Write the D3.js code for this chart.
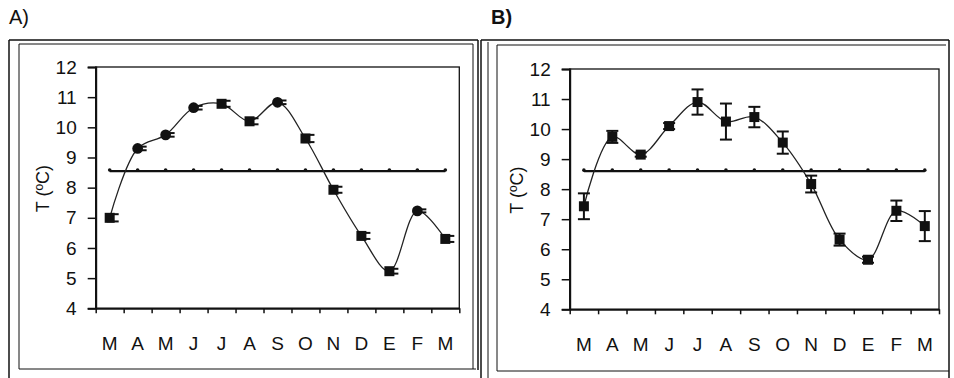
<!DOCTYPE html>
<html>
<head>
<meta charset="utf-8">
<script src="https://cdn.jsdelivr.net/npm/d3@7"></script>
<style>
  body { margin: 0; background: #fff; }
  svg { display: block; }
</style>
</head>
<body>
<div class="chart"></div>
<script>
var w = 954;
var h = 378;

// data
var months = ["M", "A", "M", "J", "J", "A", "S", "O", "N", "D", "E", "F", "M"];
var yTicks = [4, 5, 6, 7, 8, 9, 10, 11, 12];

var tempA = [7.0, 9.3, 9.75, 10.65, 10.78, 10.2, 10.83, 9.63, 7.93, 6.4, 5.23, 7.23, 6.3];
var errA = [0.12, 0.06, 0.06, 0.06, 0.1, 0.1, 0.06, 0.12, 0.1, 0.1, 0.08, 0.05, 0.1];
var meanA = 8.55;
var shapeA = ["square", "circle", "circle", "circle", "square", "square", "circle", "square", "square", "square", "square", "circle", "square"];

var tempB = [7.43, 9.74, 9.15, 10.1, 10.9, 10.25, 10.4, 9.55, 8.17, 6.32, 5.65, 7.28, 6.77];
var errB = [0.43, 0.2, 0.07, 0.1, 0.42, 0.6, 0.34, 0.37, 0.28, 0.2, 0.1, 0.34, 0.5];
var meanB = 8.6;

var ink = "#111";
var font = "Liberation Sans, Arial, sans-serif";

var svg = d3.select(".chart")
    .append("svg")
    .attr("width", w)
    .attr("height", h)
    .style("background", "#fff");

// frames round the two panels
function line(x1, y1, x2, y2, sw) {
    svg.append("line")
        .attr("x1", x1).attr("y1", y1)
        .attr("x2", x2).attr("y2", y2)
        .attr("stroke", ink)
        .attr("stroke-width", sw);
}
// panel A
line(9, 40, 478, 40, 1.5);
line(9, 40, 9, 378, 1.5);
line(478, 40, 478, 370, 1.5);
line(19, 44, 473, 44, 1);
line(19, 44, 19, 369, 1);
line(19, 369, 476, 369, 1);
line(473, 44, 473, 369, 1);
// panel B
line(481, 40, 949, 40, 1.5);
line(481, 40, 481, 378, 1.5);
line(488, 42, 488, 378, 1);
line(949, 40, 949, 378, 1.5);
line(497, 45, 946, 45, 1);
line(497, 45, 497, 371, 1);
line(497, 371, 949, 371, 1);

svg.append("text")
    .attr("x", 9)
    .attr("y", 24)
    .text("A)")
    .attr("font-family", font)
    .attr("font-size", 20)
    .attr("fill", ink);

svg.append("text")
    .attr("x", 491)
    .attr("y", 24)
    .text("B)")
    .attr("font-family", font)
    .attr("font-size", 20)
    .attr("font-weight", "bold")
    .attr("fill", ink);

drawPanel({
    left: 95.7, right: 459.3, top: 67, bottom: 308.3,
    values: tempA, errors: errA, mean: meanA, shapes: shapeA,
    capShift: 3, labelX: 43
});

drawPanel({
    left: 569.7, right: 939, top: 69, bottom: 309.3,
    values: tempB, errors: errB, mean: meanB, shapes: null,
    capShift: 0, labelX: 517
});

function drawPanel(p) {
    var g = svg.append("g");

    var x = d3.scaleBand()
        .domain(d3.range(months.length))
        .range([p.left, p.right])
        .padding(0);
    var xEdge = d3.scaleLinear()
        .domain([0, months.length])
        .range([p.left, p.right]);
    var y = d3.scaleLinear()
        .domain([4, 12])
        .range([p.bottom, p.top]);
    var cx = function (i) { return x(i) + x.bandwidth() / 2; };

    // plot frame (top and right)
    g.append("rect")
        .attr("x", p.left)
        .attr("y", p.top)
        .attr("width", p.right - p.left)
        .attr("height", p.bottom - p.top)
        .attr("fill", "none")
        .attr("stroke", ink)
        .attr("stroke-width", 1.3);

    // y axis
    var yAxis = g.append("g")
        .attr("transform", "translate(" + p.left + ",0)")
        .call(d3.axisLeft(y).tickValues(yTicks).tickSize(8).tickPadding(11).tickFormat(d3.format("d")));
    yAxis.select(".domain").attr("stroke", ink).attr("stroke-width", 2);
    yAxis.selectAll(".tick line").attr("stroke", ink).attr("stroke-width", 1.5);
    yAxis.selectAll("text")
        .attr("font-family", font)
        .attr("font-size", 19)
        .attr("fill", ink);

    // x axis ticks on the month edges
    var xTicks = g.append("g")
        .attr("transform", "translate(0," + p.bottom + ")")
        .call(d3.axisBottom(xEdge).tickValues(d3.range(months.length + 1)).tickSize(5).tickSizeOuter(0).tickFormat(""));
    xTicks.select(".domain").attr("stroke", ink).attr("stroke-width", 2);
    xTicks.selectAll(".tick line").attr("stroke", ink).attr("stroke-width", 1.5);

    // month labels
    var xLabels = g.append("g")
        .attr("transform", "translate(0," + p.bottom + ")")
        .call(d3.axisBottom(x).tickSize(0).tickPadding(28).tickFormat(function (i) { return months[i]; }));
    xLabels.select(".domain").remove();
    xLabels.selectAll("text")
        .attr("font-family", font)
        .attr("font-size", 19)
        .attr("fill", ink);

    // y axis title
    g.append("text")
        .attr("transform", "translate(" + p.labelX + "," + ((p.top + p.bottom) / 2 + 1) + ") rotate(-90)")
        .attr("text-anchor", "middle")
        .attr("dy", "0.35em")
        .text("T (\u00baC)")
        .attr("font-family", font)
        .attr("font-size", 18)
        .attr("fill", ink);

    // mean line with small dots
    g.append("line")
        .attr("x1", cx(0))
        .attr("x2", cx(months.length - 1))
        .attr("y1", y(p.mean))
        .attr("y2", y(p.mean))
        .attr("stroke", ink)
        .attr("stroke-width", 2.2);
    g.selectAll(".meandot")
        .data(months)
        .enter().append("circle")
        .attr("cx", function (d, i) { return cx(i); })
        .attr("cy", y(p.mean) - 1)
        .attr("r", 1.8)
        .attr("fill", ink);

    // smoothed temperature line
    var curve = d3.line()
        .x(function (d, i) { return cx(i); })
        .y(function (d) { return y(d); })
        .curve(d3.curveCatmullRom.alpha(0.5));
    g.append("path")
        .datum(p.values)
        .attr("d", curve)
        .attr("fill", "none")
        .attr("stroke", "#222")
        .attr("stroke-width", 1.3);

    // error bars
    var eb = g.selectAll(".err")
        .data(p.values)
        .enter().append("g");
    eb.append("line")
        .attr("x1", function (d, i) { return cx(i); })
        .attr("x2", function (d, i) { return cx(i); })
        .attr("y1", function (d, i) { return y(d + p.errors[i]); })
        .attr("y2", function (d, i) { return y(d - p.errors[i]); })
        .attr("stroke", ink)
        .attr("stroke-width", 2);
    [1, -1].forEach(function (s) {
        eb.append("line")
            .attr("x1", function (d, i) { return cx(i) - 6 + p.capShift; })
            .attr("x2", function (d, i) { return cx(i) + 6 + p.capShift; })
            .attr("y1", function (d, i) { return y(d + s * p.errors[i]); })
            .attr("y2", function (d, i) { return y(d + s * p.errors[i]); })
            .attr("stroke", ink)
            .attr("stroke-width", 2);
    });

    // markers
    g.selectAll(".mark")
        .data(p.values)
        .enter().append("path")
        .attr("transform", function (d, i) { return "translate(" + cx(i) + "," + y(d) + ")"; })
        .attr("d", function (d, i) {
            var shape = p.shapes ? p.shapes[i] : "square";
            var sym = shape == "circle" ? d3.symbolCircle : d3.symbolSquare;
            return d3.symbol().type(sym).size(shape == "circle" ? 90 : 100)();
        })
        .attr("fill", ink);
}
</script>
</body>
</html>
